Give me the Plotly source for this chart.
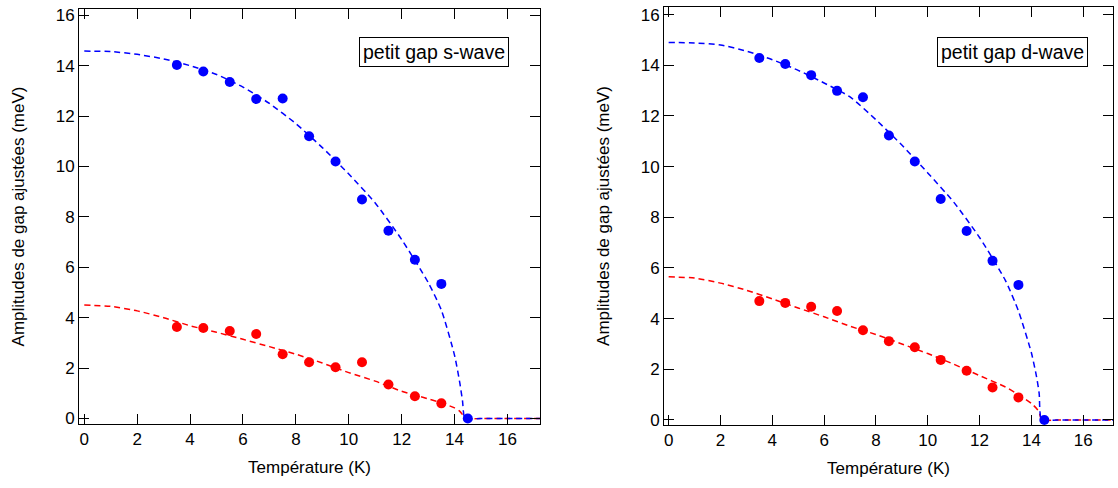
import plotly.graph_objects as go

# températures des points mesurés
temp = [3.5, 4.5, 5.5, 6.5, 7.5, 8.5, 9.5, 10.5, 11.5, 12.5, 13.5, 14.5]

# s-wave : gaps ajustés
s_grand = [14.03, 13.77, 13.35, 12.68, 12.7, 11.2, 10.2, 8.69, 7.45, 6.3, 5.34, 0.0]
s_petit = [3.63, 3.59, 3.47, 3.35, 2.55, 2.23, 2.03, 2.23, 1.35, 0.88, 0.6, 0.0]

# d-wave : gaps ajustés
d_grand = [14.29, 14.05, 13.61, 12.99, 12.74, 11.23, 10.2, 8.72, 7.46, 6.28, 5.33, 0.0]
d_petit = [4.69, 4.62, 4.47, 4.3, 3.54, 3.11, 2.87, 2.37, 1.94, 1.28, 0.89, 0.0]

# courbes d'ajustement
fit_t = [0, 1, 2, 3, 4, 5, 6, 7, 8, 9, 10, 11, 12, 13, 13.5, 14, 14.2, 14.3, 14.4, 15, 16, 17.4]
fit_s_grand = [14.58, 14.56, 14.45, 14.27, 14.0, 13.65, 13.15, 12.5, 11.7, 10.75, 9.7, 8.55, 7.1, 5.4, 4.3, 2.5, 1.4, 0.7, 0, 0, 0, 0]
fit_s_petit = [4.5, 4.45, 4.27, 4.0, 3.68, 3.42, 3.14, 2.85, 2.55, 2.2, 1.82, 1.48, 1.08, 0.78, 0.62, 0.42, 0.28, 0.15, 0, 0, 0, 0]
fit_d_grand = [14.9, 14.88, 14.8, 14.56, 14.22, 13.8, 13.3, 12.75, 11.85, 10.85, 9.75, 8.6, 7.2, 5.5, 4.3, 2.65, 1.7, 1.05, 0, 0, 0, 0]
fit_d_petit = [5.65, 5.6, 5.4, 5.12, 4.78, 4.42, 4.07, 3.7, 3.37, 3.0, 2.62, 2.2, 1.75, 1.3, 1.0, 0.65, 0.45, 0.3, 0, 0, 0, 0]

xticks = [0, 2, 4, 6, 8, 10, 12, 14, 16]
yticks = [0, 2, 4, 6, 8, 10, 12, 14, 16]

BLEU = '#0000ff'
ROUGE = '#ff0000'
police = dict(family='Liberation Sans, Arial', size=17, color='black')
police_cadre = dict(family='Liberation Sans, Arial', size=19.5, color='black')

# on retire la marge de la page (voir post_script) : pixels de page = pixels de figure
W, H = 1118, 488


def px_x(a, b):
    return [a / W, b / W]


def px_y(haut, bas):
    return [1 - bas / H, 1 - haut / H]


fig = go.Figure()

panneaux = [
    ('x', 'y', fit_s_grand, fit_s_petit, s_grand, s_petit),
    ('x2', 'y2', fit_d_grand, fit_d_petit, d_grand, d_petit),
]
for xa, ya, fg, fp, g, p in panneaux:
    fig.add_trace(go.Scatter(x=fit_t, y=fp, xaxis=xa, yaxis=ya, mode='lines',
                             line=dict(color=ROUGE, width=1.5, dash='6px,4px', shape='spline', smoothing=0.6)))
    fig.add_trace(go.Scatter(x=fit_t, y=fg, xaxis=xa, yaxis=ya, mode='lines',
                             line=dict(color=BLEU, width=1.5, dash='6px,4px', shape='spline', smoothing=0.6)))
    fig.add_trace(go.Scatter(x=temp[:-1], y=p[:-1], xaxis=xa, yaxis=ya, mode='markers',
                             marker=dict(color=ROUGE, size=10)))
    fig.add_trace(go.Scatter(x=temp, y=g, xaxis=xa, yaxis=ya, mode='markers',
                             marker=dict(color=BLEU, size=10)))

axe_commun = dict(showgrid=False, zeroline=False, showline=True, linecolor='black', linewidth=1,
                  mirror='ticks', ticks='inside', ticklen=10, tickwidth=1, tickcolor='black',
                  tickfont=police, title_font=police, automargin=False, ticklabeloverflow='allow')

cadre = dict(xref='paper', yref='paper', xanchor='center', yanchor='middle', showarrow=False,
             bordercolor='black', borderwidth=1, borderpad=3, bgcolor='white', font=police_cadre)

fig.update_layout(
    width=W, height=H,
    margin=dict(l=0, r=0, t=0, b=0, autoexpand=False),
    plot_bgcolor='white', paper_bgcolor='white',
    showlegend=False,
    font=police,
    xaxis=dict(axe_commun, domain=px_x(79, 540), range=[-0.2, 17.23], tickvals=xticks,
               anchor='y', title_text='Température (K)', title_standoff=12),
    yaxis=dict(axe_commun, domain=px_y(9, 424), range=[-0.22, 16.25], tickvals=yticks,
               anchor='x', title_text='Amplitudes de gap ajustées (meV)', title_standoff=26),
    xaxis2=dict(axe_commun, domain=px_x(664, 1113), range=[-0.18, 17.15], tickvals=xticks,
                anchor='y2', title_text='Température (K)', title_standoff=12),
    yaxis2=dict(axe_commun, domain=px_y(7, 425), range=[-0.2, 16.3], tickvals=yticks,
                anchor='x2', title_text='Amplitudes de gap ajustées (meV)', title_standoff=26),
    annotations=[
        dict(cadre, text='petit gap s-wave', x=433.5 / W, y=1 - 51.5 / H),
        dict(cadre, text='petit gap d-wave', x=1012 / W, y=1 - 51.5 / H),
    ],
)

fig.write_html("out.html", config={'displayModeBar': False},
               post_script="document.body.style.margin = '0px';")
